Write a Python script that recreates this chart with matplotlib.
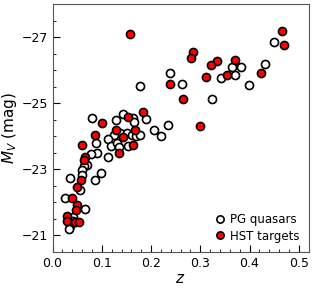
import matplotlib
matplotlib.use("Agg")
import matplotlib.pyplot as plt
from matplotlib.ticker import MultipleLocator

# PG quasars (open circles)
pg_z = [0.449, 0.431, 0.364, 0.383, 0.370, 0.342, 0.398, 0.324, 0.263, 0.239,
        0.177, 0.234, 0.205, 0.220, 0.189,
        0.081, 0.128, 0.142, 0.163, 0.166, 0.137, 0.151, 0.161, 0.170, 0.177,
        0.125, 0.112, 0.089, 0.119, 0.131, 0.135, 0.154, 0.090, 0.079, 0.113,
        0.069, 0.063, 0.060, 0.059, 0.098, 0.087, 0.036, 0.056, 0.026, 0.065,
        0.042, 0.042, 0.036, 0.034]
pg_mv = [-26.85, -26.18, -26.11, -26.10, -25.86, -25.75, -25.54, -25.13, -25.57, -25.91,
         -25.51, -24.33, -24.18, -24.01, -24.52,
         -24.55, -24.50, -24.67, -24.55, -24.44, -24.10, -24.11, -24.05, -24.00, -24.03,
         -24.03, -23.92, -23.81, -23.70, -23.79, -23.68, -23.71, -23.51, -23.46, -23.38,
         -23.13, -23.09, -22.97, -22.84, -22.90, -22.69, -22.74, -22.37, -22.13, -21.79,
         -21.57, -21.45, -21.28, -21.21]

# HST targets (red circles)
hst_z = [0.157, 0.465, 0.470, 0.285, 0.281, 0.333, 0.322, 0.370, 0.423, 0.355,
         0.312, 0.238, 0.265, 0.299, 0.184, 0.100, 0.154, 0.129, 0.167, 0.087,
         0.144, 0.060, 0.164, 0.134, 0.066, 0.063, 0.058, 0.049, 0.039, 0.049,
         0.048, 0.029, 0.030, 0.045, 0.053]
hst_mv = [-27.08, -27.18, -26.76, -26.54, -26.36, -26.27, -26.17, -26.32, -25.90, -25.86,
          -25.80, -25.59, -25.13, -24.30, -24.74, -24.40, -24.59, -24.18, -24.20, -24.05,
          -23.98, -23.74, -23.73, -23.51, -23.36, -23.27, -22.68, -22.47, -22.13, -21.91,
          -21.76, -21.58, -21.44, -21.40, -21.42]

fig = plt.figure(figsize=(3.13, 2.91), dpi=100)
ax = fig.add_axes([0.168, 0.134, 0.818, 0.852])

ax.plot(pg_z, pg_mv, 'o', ms=5.8, mfc='white', mec='black', mew=1.2,
        ls='none', label='PG quasars')
ax.plot(hst_z, hst_mv, 'o', ms=5.8, mfc='red', mec='black', mew=1.2,
        ls='none', label='HST targets')

ax.set_xlim(0, 0.52)
ax.set_ylim(-20.5, -28)
ax.xaxis.set_major_locator(MultipleLocator(0.1))
ax.xaxis.set_minor_locator(MultipleLocator(0.02))
ax.yaxis.set_major_locator(MultipleLocator(2))
ax.yaxis.set_minor_locator(MultipleLocator(0.5))
ax.set_yticks([-27, -25, -23, -21])
ax.tick_params(which='both', direction='in', labelsize=9)
ax.tick_params(which='major', length=5)
ax.tick_params(which='minor', length=2.5)
for s in ax.spines.values():
    s.set_color('#555555')

ax.set_xlabel('$z$', fontsize=11, labelpad=1)
ax.set_ylabel('$M_V$ (mag)', fontsize=11, labelpad=2)

ax.legend(loc='lower right', frameon=False, fontsize=8.5, handletextpad=0.2,
          borderaxespad=0.4, handlelength=1.2, labelspacing=0.3, markerscale=0.9)

plt.savefig('out.png', dpi=100)
